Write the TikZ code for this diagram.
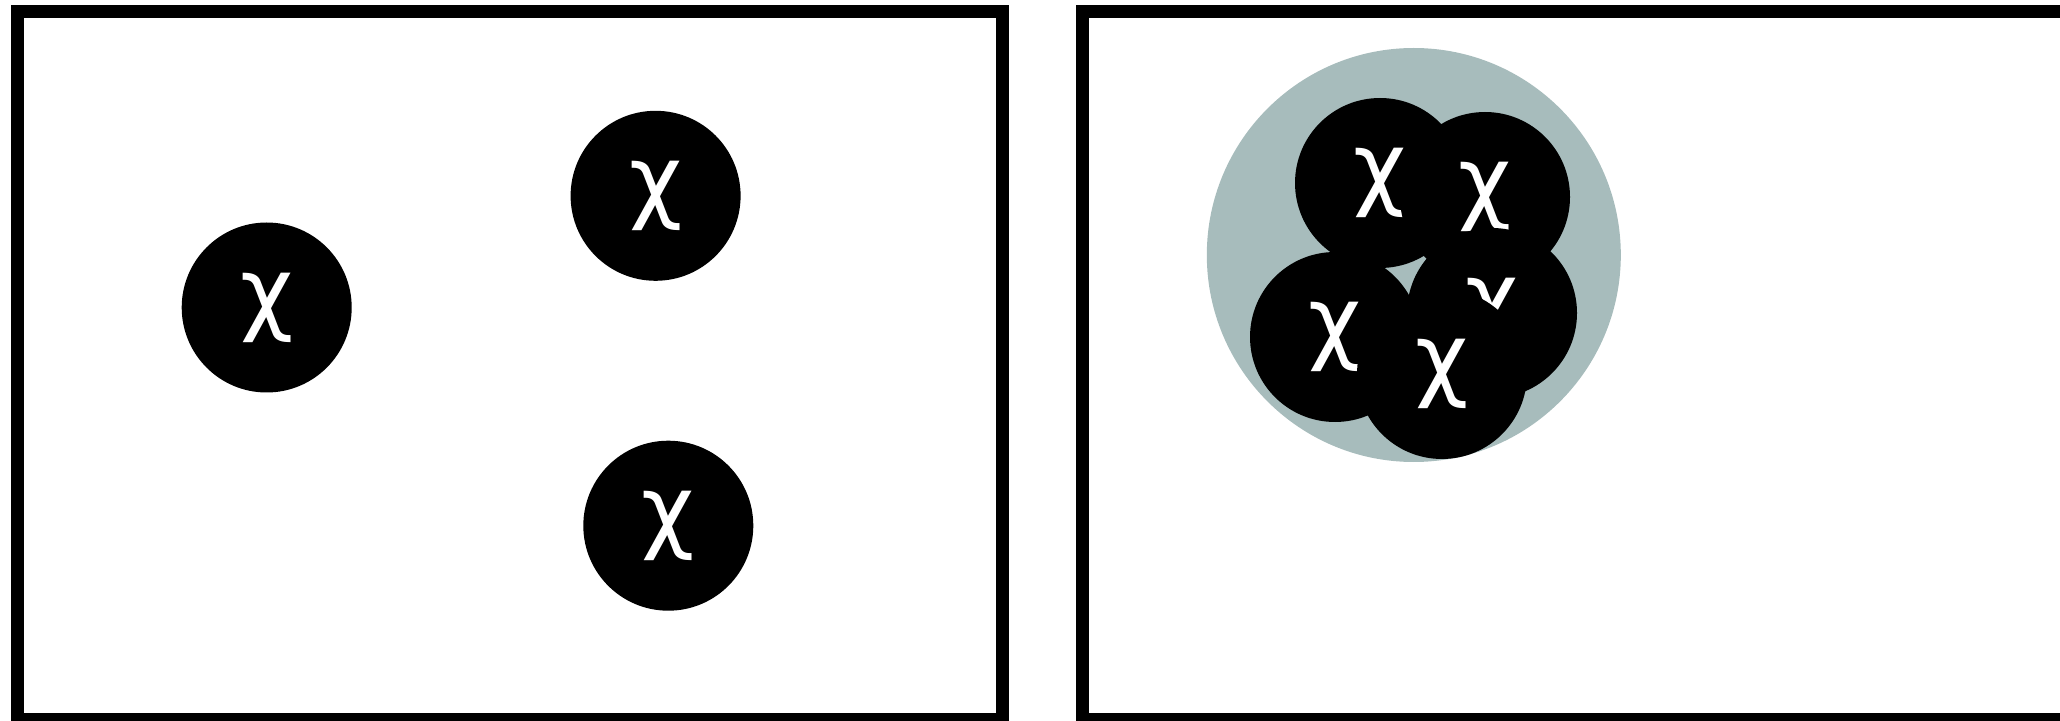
\documentclass[tikz,border=0pt]{standalone}
\usepackage{fontspec}
\newfontfamily\chifont{DejaVu Sans}
\definecolor{clustergray}{RGB}{167,188,188}
\begin{document}
\begin{tikzpicture}[x=0.5pt,y=-0.5pt,
  frame/.style={draw=black,line width=6.65pt},
  ball/.style={circle,fill=black,minimum size=85pt,inner sep=0pt,text=white,
    font=\chifont\fontsize{46}{46}\selectfont},
  cluster/.style={circle,fill=clustergray,minimum size=207pt,inner sep=0pt}]
\useasboundingbox (0,0) rectangle (2060,721);
\clip (0,0) rectangle (2060,721);
\draw[frame] (17.7,11.7) rectangle (1002.5,720);
\draw[frame] (1082.7,11.7) rectangle (2068,720);
% left panel
\node[ball] (l1) at (266.7,307.5) {χ};
\node[ball] (l2) at (655.6,195.8) {χ};
\node[ball] (l3) at (668.3,525.7) {χ};
% right panel
\node[cluster] (cl) at (1413.8,255) {};
\node[ball] (ra) at (1380,183) {χ};
\node[ball] (rb) at (1485,197) {χ};
\node[ball] (rc) at (1335,337) {χ};
\node[ball] (rd) at (1492,313) {χ};
\node[ball] (re) at (1442,374) {χ};
\end{tikzpicture}
\end{document}
